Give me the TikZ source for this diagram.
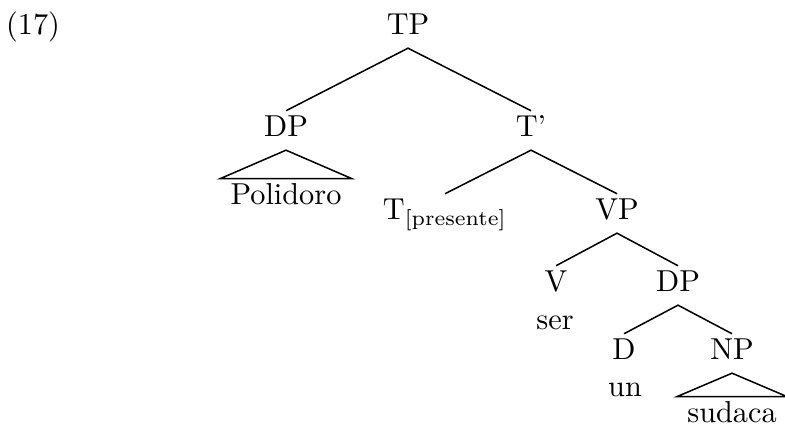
\documentclass[tikz,border=0pt]{standalone}
\usepackage{amsmath}
\usepackage{tikz}
\tikzset{
  cat/.style  ={anchor=base,inner xsep=3.3pt,inner ysep=2pt,text height=1.5ex,text depth=.5ex},
  leaf/.style ={anchor=base,inner xsep=3.3pt,inner ysep=2pt,text height=1.5ex,text depth=.5ex},
  branch/.style ={black,line width=0.5pt},
  roof/.style ={black,line width=0.5pt},
}
\begin{document}
\begin{tikzpicture}[x=0.33pt,y=-0.33pt]
  \useasboundingbox (0,0) rectangle (785,427);
  \node[anchor=base](ex) at (33,35){(17)};
  \node[cat](tp) at (408,35){TP};
  \node[cat](dp1) at (286,137){DP};            \node[cat](tbar) at (531,137){T'};
  \node[leaf](poli) at (286,205){Polidoro};
  \node[cat](t) at (445,220){T$_{\text{[presente]}}$};  \node[cat](vp) at (617,220){VP};
  \node[cat](v) at (556,292){V};               \node[cat](dp2) at (678,292){DP};
  \node[leaf](ser) at (555,330){ser};
  \node[cat](d) at (624,360){D};               \node[cat](np) at (732,360){NP};
  \node[leaf](un) at (625,397){un};
  \node[leaf](sud) at (732,423){sudaca};
  \draw[branch](dp1.north)--(tp.south)--(tbar.north);
  \draw[branch](t.north)--(tbar.south)--(vp.north);
  \draw[branch](v.north)--(vp.south)--(dp2.north);
  \draw[branch](d.north)--(dp2.south)--(np.north);
  \draw[roof](dp1.south)--(poli.north west)--(poli.north east)--cycle;
  \draw[roof](np.south)--(sud.north west)--(sud.north east)--cycle;
\end{tikzpicture}
\end{document}
